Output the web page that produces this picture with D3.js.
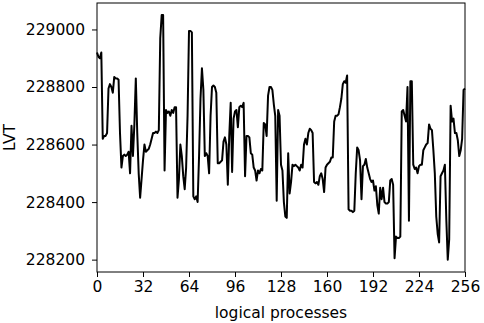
<!DOCTYPE html>
<meta charset="utf-8">
<style>
  body { margin: 0; background: #fff; }
  text { font-family: "DejaVu Sans", sans-serif; fill: #000; }
</style>
<svg width="484" height="323"></svg>
<script src="https://cdn.jsdelivr.net/npm/d3@7"></script>
<script>
  // LVT per logical process (index 0..256)
  var lvt = [
    228920, 228905, 228900, 228920, 228620, 228630, 228630, 228640, 228795, 228810,
    228800, 228780, 228835, 228830, 228830, 228825, 228640, 228520, 228560, 228565,
    228560, 228565, 228575, 228500, 228665, 228560, 228670, 228830, 228640, 228500,
    228415, 228480, 228545, 228600, 228575, 228580, 228585, 228600, 228620, 228640,
    228640, 228645, 228640, 228650, 228970, 229050, 229050, 228510, 228720, 228710,
    228715, 228700, 228720, 228710, 228730, 228730, 228415, 228480, 228600, 228560,
    228490, 228445, 228520, 228700, 228995, 228995, 228990, 228420, 228410, 228420,
    228400, 228560, 228760, 228865, 228790, 228560, 228570, 228560, 228500, 228700,
    228800, 228805, 228800, 228780, 228535, 228535, 228540, 228545, 228610, 228625,
    228600, 228460, 228630, 228745, 228505, 228690, 228715, 228720, 228660, 228730,
    228735, 228730, 228745, 228490, 228630, 228630, 228625, 228570, 228565, 228520,
    228510, 228475, 228510, 228500, 228515, 228510, 228675, 228670, 228630, 228770,
    228800, 228800, 228790, 228740, 228700, 228405, 228720, 228700, 228530, 228510,
    228400, 228350, 228345, 228570, 228430, 228470, 228530, 228525, 228530, 228525,
    228520, 228510, 228530, 228520, 228600, 228620, 228600, 228640, 228655, 228650,
    228640, 228470, 228465, 228470, 228460, 228490, 228500, 228480, 228435, 228520,
    228530, 228535, 228540, 228555, 228555, 228680, 228700, 228700, 228705, 228730,
    228760, 228810, 228820, 228815, 228840, 228375, 228370, 228370, 228365, 228370,
    228500, 228590, 228580, 228545, 228410, 228525, 228530, 228550, 228520, 228500,
    228480, 228470, 228475, 228440, 228455, 228390, 228360, 228450, 228410, 228450,
    228400, 228395, 228395, 228400, 228475, 228480, 228460, 228205, 228280, 228275,
    228275, 228280, 228715, 228720, 228700, 228680, 228800, 228335, 228820, 228820,
    228530, 228515, 228520, 228500, 228525, 228530, 228530, 228580, 228590, 228600,
    228605, 228670, 228655, 228650, 228580, 228500, 228350, 228290, 228260, 228490,
    228500, 228510, 228530, 228340, 228200, 228270, 228735, 228680, 228690, 228640,
    228640, 228615, 228560, 228580, 228620, 228790, 228795
  ];
  var xTicks = [0, 32, 64, 96, 128, 160, 192, 224, 256];
  var yTicks = [228200, 228400, 228600, 228800, 229000];

  var svg = d3.select("svg"),
      mLeft = 97, mRight = 465, mTop = 3, mBottom = 272;

  var x = d3.scaleLinear().domain([0, 256]).range([mLeft, mRight]);
  var y = d3.scaleLinear().domain([228157, 229092]).range([mBottom, mTop]);

  var line = d3.line()
    .x(function(d, i) { return x(i); })
    .y(function(d) { return y(d); });

  svg.append("path")
    .datum(lvt)
    .attr("fill", "none")
    .attr("stroke", "#000")
    .attr("stroke-width", 2)
    .attr("stroke-linejoin", "round")
    .attr("d", line);

  var xAxis = svg.append("g")
    .attr("transform", "translate(0," + mBottom + ")")
    .call(d3.axisBottom(x).tickValues(xTicks).tickSize(5).tickPadding(4));
  var yAxis = svg.append("g")
    .attr("transform", "translate(" + mLeft + ",0)")
    .call(d3.axisLeft(y).tickValues(yTicks).tickFormat(d3.format("d")).tickSize(5).tickPadding(7));

  [xAxis, yAxis].forEach(function(a) {
    a.select(".domain").remove();
    a.selectAll("line").attr("stroke", "#000");
    a.selectAll("text").attr("font-size", "15.5px").attr("font-family", "DejaVu Sans");
  });

  // frame
  svg.append("rect")
    .attr("x", mLeft).attr("y", mTop)
    .attr("width", mRight - mLeft).attr("height", mBottom - mTop)
    .attr("fill", "none").attr("stroke", "#000").attr("stroke-width", 1);

  svg.append("text")
    .attr("x", (mLeft + mRight) / 2).attr("y", 318)
    .attr("text-anchor", "middle")
    .attr("font-size", "15.5px")
    .text("logical processes");

  svg.append("text")
    .attr("transform", "translate(15," + (mTop + mBottom) / 2 + ") rotate(-90)")
    .attr("text-anchor", "middle")
    .attr("font-size", "15.5px")
    .text("LVT");
</script>
